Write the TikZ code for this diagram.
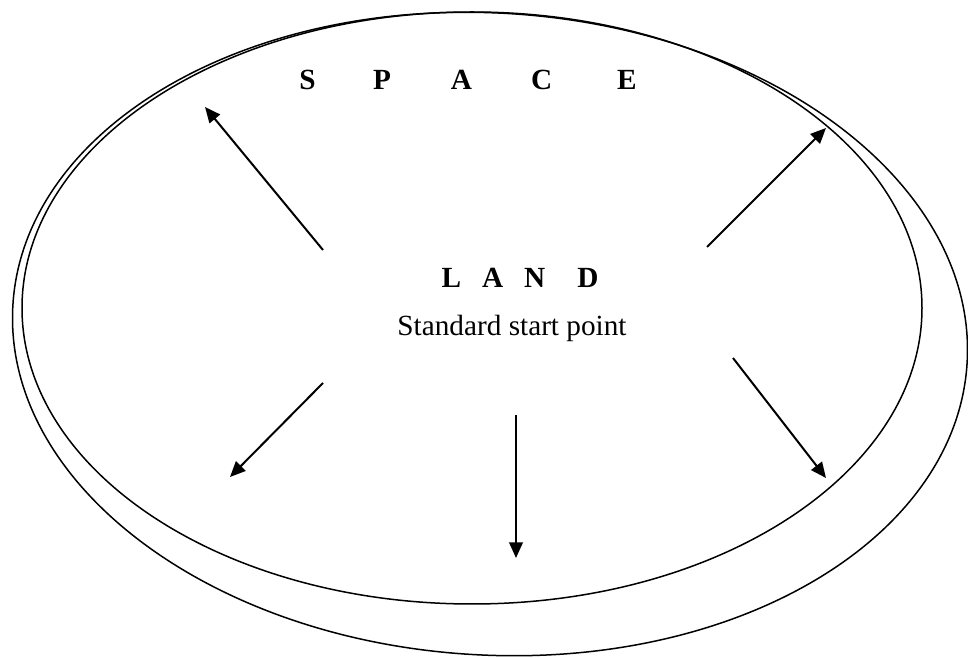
\documentclass[tikz,border=0pt]{standalone}
\usepackage{fontspec}
\setmainfont{Liberation Serif}
\usetikzlibrary{arrows.meta, positioning}

\begin{document}
\begin{tikzpicture}[
  x=0.4pt, y=-0.4pt,
  every node/.style = {font=\fontsize{11.7}{14}\selectfont, inner sep=0pt},
  spaced/.style     = {font=\fontsize{11.7}{14}\selectfont\bfseries},
  rim/.style        = {draw=black, line width=0.6pt},
  spread/.style     = {-{Triangle[length=6.2pt, width=5.4pt]}, draw=black, line width=0.8pt},
]
  \useasboundingbox (0,0) rectangle (968,658);

  % ---------------------------------------------------------------- rims
  \draw[rim, rotate around={-3.5:(490,334)}]
        (490,334) ellipse [x radius=478, y radius=321];
  \draw[rim] (472,308) ellipse [x radius=450, y radius=296];

  % ---------------------------------------------------------------- labels
  \node[spaced] (space) at (468,80)
        {S\hspace{23pt}P\hspace{24pt}A\hspace{23.6pt}C\hspace{26pt}E};
  \node[spaced] (land)  at (520,278)
        {L\hspace{8.4pt}A\hspace{8.4pt}N\hspace{12.8pt}D};
  \node         (start) at (512,328) {Standard start point};

  % ---------------------------------------------------------------- ends
  \coordinate (ulT) at (323,250);  \coordinate (ulH) at (205,107);
  \coordinate (urT) at (707,247);  \coordinate (urH) at (826,128);
  \coordinate (llT) at (323,383);  \coordinate (llH) at (230,477);
  \coordinate (dnT) at (516,415);  \coordinate (dnH) at (516,558);
  \coordinate (lrT) at (733,358);  \coordinate (lrH) at (826,478);

  % ---------------------------------------------------------------- arrows
  \draw[spread] (ulT) -- (ulH);
  \draw[spread] (urT) -- (urH);
  \draw[spread] (llT) -- (llH);
  \draw[spread] (dnT) -- (dnH);
  \draw[spread] (lrT) -- (lrH);

\end{tikzpicture}
\end{document}
